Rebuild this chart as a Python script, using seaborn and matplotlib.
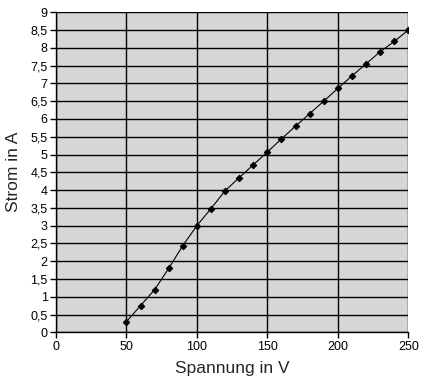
import matplotlib
matplotlib.use("Agg")
import matplotlib.pyplot as plt
import seaborn as sns
import pandas as pd
from matplotlib.ticker import FuncFormatter, MultipleLocator

spannung = [50, 60, 70, 80, 90, 100, 110, 120, 130, 140, 150, 160, 170, 180, 190, 200, 210, 220, 230, 240, 250]
strom = [0.3, 0.75, 1.2, 1.8, 2.44, 3.0, 3.48, 3.98, 4.35, 4.71, 5.07, 5.44, 5.8, 6.15, 6.5, 6.86, 7.21, 7.55, 7.89, 8.18, 8.5]

df = pd.DataFrame({"Spannung": spannung, "Strom": strom})

sns.set_style("white")
plt.rcParams['font.family'] = ['Liberation Sans', 'DejaVu Sans']

fig = plt.figure(figsize=(4.23, 3.82), dpi=100)
ax = fig.add_axes([0.1324, 0.1301, 0.8328, 0.8377])
ax.set_facecolor('#d6d6d6')

sns.lineplot(data=df, x="Spannung", y="Strom", ax=ax, color='black', linewidth=0.8,
             marker='D', markersize=3.3, markeredgecolor='black', markerfacecolor='black', zorder=3)

ax.set_xlim(0, 250)
ax.set_ylim(0, 9)
ax.xaxis.set_major_locator(MultipleLocator(50))
ax.yaxis.set_major_locator(MultipleLocator(0.5))

def fmt(v, pos):
    s = ('%g' % v).replace('.', ',')
    return s
ax.yaxis.set_major_formatter(FuncFormatter(fmt))
ax.xaxis.set_major_formatter(FuncFormatter(fmt))

ax.grid(True, color='black', linewidth=1.0)
ax.set_axisbelow(True)
for s in ['top', 'right']:
    ax.spines[s].set_visible(False)
for s in ['left', 'bottom']:
    ax.spines[s].set_color('black')
    ax.spines[s].set_linewidth(1.0)

ax.tick_params(axis='both', which='major', direction='out', length=4, width=1, color='black',
               labelsize=9, labelcolor='black', pad=2, left=True, bottom=True)

ax.set_xlabel("Spannung in V", fontsize=12.5, labelpad=6)
ax.set_ylabel("Strom in A", fontsize=12.5, labelpad=7)

fig.savefig("out.png", dpi=100)
